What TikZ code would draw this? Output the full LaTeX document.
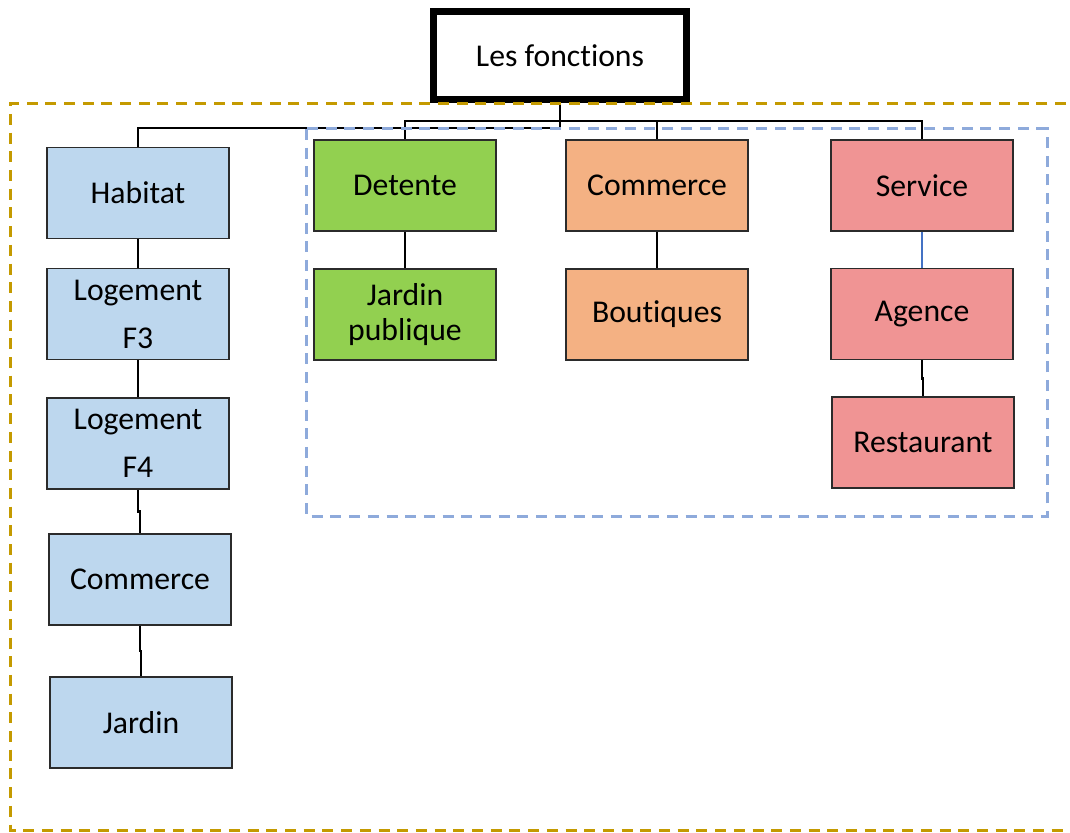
\documentclass[tikz,border=0pt]{standalone}
\usepackage{fontspec}
\setmainfont{Carlito}[Ligatures=NoCommon]
\usetikzlibrary{calc}
\definecolor{habfill}{HTML}{BDD7EE}
\definecolor{detfill}{HTML}{92D050}
\definecolor{comfill}{HTML}{F4B183}
\definecolor{serfill}{HTML}{F09494}
\definecolor{boxline}{HTML}{2B2B2B}
\definecolor{goldline}{HTML}{C49A00}
\definecolor{blueline}{HTML}{8EAADB}
\definecolor{linkblue}{HTML}{4472C4}
\begin{document}
\begin{tikzpicture}[x=1pt,y=-1pt,
  box/.style={draw=boxline, line width=1.6pt, minimum width=182pt, minimum height=91pt,
    inner sep=0pt, align=center, font=\fontsize{31.7}{48}\selectfont},
  habit/.style={box, fill=habfill},
  relax/.style={box, fill=detfill},
  shop/.style={box, fill=comfill},
  serv/.style={box, fill=serfill},
  link/.style={draw=black, line width=2.6pt},
  zone/.style={line width=3pt, dash pattern=on 11pt off 7.7pt}]
\useasboundingbox (0,0) rectangle (1070,832);

% root
\node[draw=black, line width=7pt, minimum width=253pt, minimum height=88pt, inner sep=0pt,
  font=\fontsize{31.7}{38}\selectfont] (root) at (560,55.5) {Les fonctions};

% residential column
\node[habit] (hab) at (138,193) {Habitat};
\node[habit] (f3) at (138,314) {Logement\\F3};
\node[habit] (f4) at (138,443.5) {Logement\\F4};
\node[habit] (lcom) at (140,579.5) {Commerce};
\node[habit] (jard) at (141,722.5) {Jardin};

% leisure
\node[relax] (det) at (405,185.5) {Detente};
\node[relax, font=\fontsize{31.7}{35}\selectfont] (jpub) at (405,314.5) {Jardin\\publique};

% trade
\node[shop] (com) at (657,185.5) {Commerce};
\node[shop] (bout) at (657,314.5) {Boutiques};

% services
\node[serv] (ser) at (922,185.5) {Service};
\node[serv] (age) at (922,314) {Agence};
\node[serv] (rest) at (923,442.5) {Restaurant};

% tree connectors
\coordinate (low) at (560,128);
\coordinate (up) at (560,121);
\draw[link] (root.south) -- (low) -| (hab.north);
\draw[link] (det.north) |- (up) -| (ser.north);
\draw[link] (com.north) -- (com.north |- up);

\draw[link] (hab.south) -- (f3.north);
\draw[link] (f3.south) -- (f4.north);
\coordinate (m1) at ($(f4.south)!.5!(lcom.north)$);
\draw[link] (f4.south) -- (f4.south |- m1) -| (lcom.north);
\coordinate (m2) at ($(lcom.south)!.5!(jard.north)$);
\draw[link] (lcom.south) -- (lcom.south |- m2) -| (jard.north);

\draw[link] (det.south) -- (jpub.north);
\draw[link] (com.south) -- (bout.north);
\draw[line width=2.4pt, draw=linkblue] (ser.south) -- (age.north);
\coordinate (m3) at ($(age.south)!.5!(rest.north)$);
\draw[link] (age.south) -- (age.south |- m3) -| (rest.north);

% zones
\draw[zone, draw=goldline] (1066,104) -- (10,104) -- (10,830) -- (1070,830);
\draw[zone, draw=blueline] (306,129) rectangle (1047,516);
\end{tikzpicture}
\end{document}
